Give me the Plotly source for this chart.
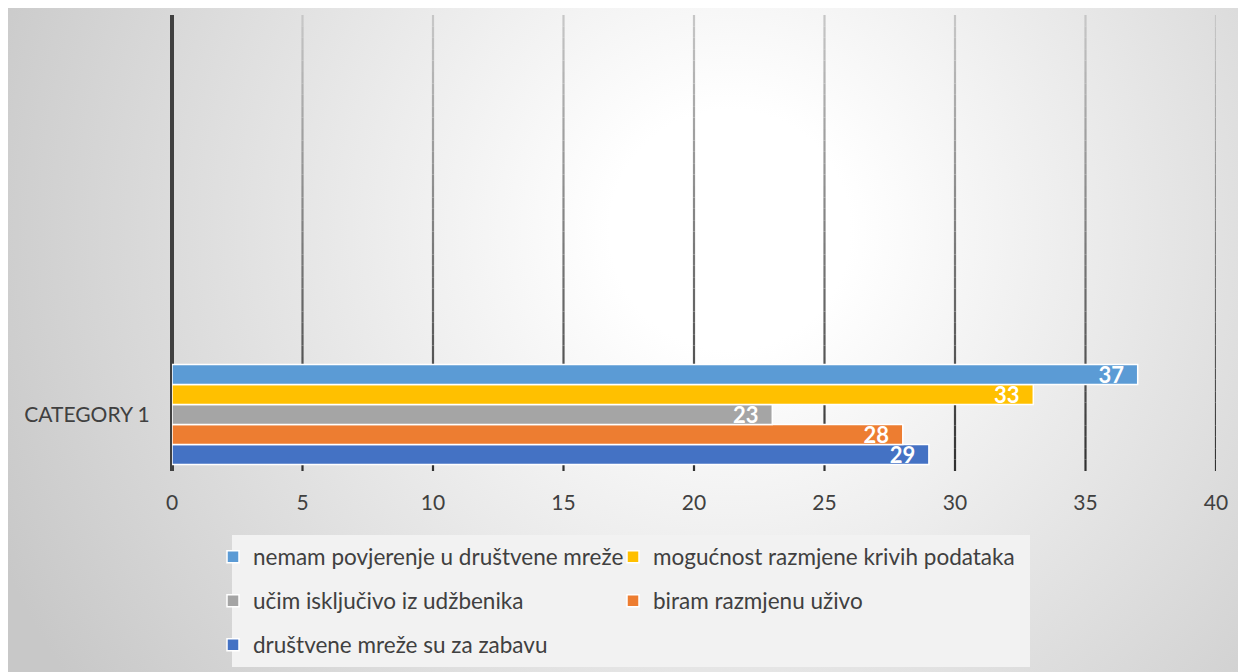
import base64
import plotly.graph_objects as go

# ---- data ----
CATEGORIES = ["CATEGORY 1"]
SERIES_NAMES = [
    "nemam povjerenje u društvene mreže",
    "mogućnost razmjene krivih podataka",
    "učim isključivo iz udžbenika",
    "biram razmjenu uživo",
    "društvene mreže su za zabavu",
]
SERIES_VALUES = [37, 33, 23, 28, 29]
SERIES_COLORS = ["#5B9BD5", "#FFC000", "#A5A5A5", "#ED7D31", "#4472C4"]
SERIES_LEGEND = ["legend", "legend", "legend2", "legend2", "legend3"]
X_TICKS = [0, 5, 10, 15, 20, 25, 30, 35, 40]

# page is offset by the 8px body margin
OFF = 8
W, H = 1246 - OFF, 672 - OFF
FONT = "Lato, 'Open Sans', sans-serif"
TXT = "#404040"

# plot area in page pixels -> figure pixels
L, R, T, B = 172 - OFF, 1216 - OFF, 15 - OFF, 471 - OFF
PW, PH = R - L, B - T

def px_to_paper_x(px):
    return (px - OFF - L) / PW

def px_to_paper_y(py):
    return (B - (py - OFF)) / PH

# radial gradient background (chart area fill)
svg = f'''<svg xmlns="http://www.w3.org/2000/svg" width="{W}" height="{H}" viewBox="0 0 {W} {H}" preserveAspectRatio="none">
<defs><radialGradient id="g" gradientUnits="userSpaceOnUse" cx="722" cy="222" r="800">
<stop offset="0" stop-color="#ffffff"/><stop offset="0.15" stop-color="#ffffff"/>
<stop offset="1" stop-color="#c8c8c8"/></radialGradient></defs>
<rect x="0" y="0" width="{W}" height="{H}" fill="url(#g)"/></svg>'''
bg_src = "data:image/svg+xml;base64," + base64.b64encode(svg.encode()).decode()

fig = go.Figure()

# bottom-to-top order in plotly = reverse of legend order
for name, val, col, lg in reversed(list(zip(SERIES_NAMES, SERIES_VALUES, SERIES_COLORS, SERIES_LEGEND))):
    fig.add_trace(go.Bar(
        y=[0], x=[val], name=name, orientation="h",
        marker=dict(color=col, line=dict(color="white", width=1.5)),
        text=[val], texttemplate="%{x}\u00a0\u00a0",
        textposition="inside", insidetextanchor="end", constraintext="none",
        textfont=dict(family=FONT, size=22, color="white", weight="bold"),
        legend=lg, hoverinfo="x+name",
    ))

shapes = []
# legend box
shapes.append(dict(type="rect", xref="paper", yref="paper",
                   x0=px_to_paper_x(232), x1=px_to_paper_x(1030),
                   y0=px_to_paper_y(667), y1=px_to_paper_y(535),
                   fillcolor="#f2f2f2", line=dict(width=0), layer="below"))

# gradient vertical gridlines
NSEG = 40
for v in X_TICKS[1:]:
    for i in range(NSEG):
        f0, f1 = i / NSEG, (i + 1) / NSEG
        t = (f0 + f1) / 2  # 0 bottom, 1 top
        c = int(0x30 + (0xc8 - 0x30) * t)
        shapes.append(dict(type="line", xref="x", yref="paper", x0=v, x1=v,
                           y0=f0, y1=f1, line=dict(color=f"rgb({c},{c},{c})", width=2.2),
                           layer="below"))

def legend_cfg(page_y):
    return dict(orientation="h", xref="container", yref="container",
                x=(223 - OFF) / W, y=1 - (page_y - OFF) / H,
                xanchor="left", yanchor="middle", indentation=-10,
                traceorder="reversed", entrywidth=365, entrywidthmode="pixels",
                bgcolor="rgba(0,0,0,0)", font=dict(family=FONT, size=22.5, color=TXT))

fig.update_layout(
    width=W, height=H,
    margin=dict(l=L, r=W - R, t=T, b=H - B, autoexpand=False),
    paper_bgcolor="white", plot_bgcolor="rgba(0,0,0,0)",
    barmode="group", bargap=0.1, bargroupgap=0,
    font=dict(family=FONT, color=TXT, size=21),
    images=[dict(source=bg_src, xref="paper", yref="paper",
                 x=px_to_paper_x(OFF), y=px_to_paper_y(OFF),
                 sizex=W / PW, sizey=H / PH,
                 xanchor="left", yanchor="top", sizing="stretch", layer="below")],
    shapes=shapes,
    xaxis=dict(range=[0, 40], tickvals=X_TICKS, showgrid=False,
               zeroline=True, zerolinecolor="#404040", zerolinewidth=3.5,
               ticks="outside", ticklen=13, tickcolor="rgba(0,0,0,0)",
               tickfont=dict(family=FONT, size=21, color=TXT), fixedrange=True),
    yaxis=dict(range=[-0.5085, 3.596], tickvals=[0], ticktext=CATEGORIES,
               showgrid=False, zeroline=False,
               ticks="outside", ticklen=17, tickcolor="rgba(0,0,0,0)",
               tickfont=dict(family=FONT, size=21, color=TXT), fixedrange=True),
    legend=legend_cfg(557),
    legend2=legend_cfg(601),
    legend3=legend_cfg(645),
    showlegend=True,
)

fig.write_html("out.html")
